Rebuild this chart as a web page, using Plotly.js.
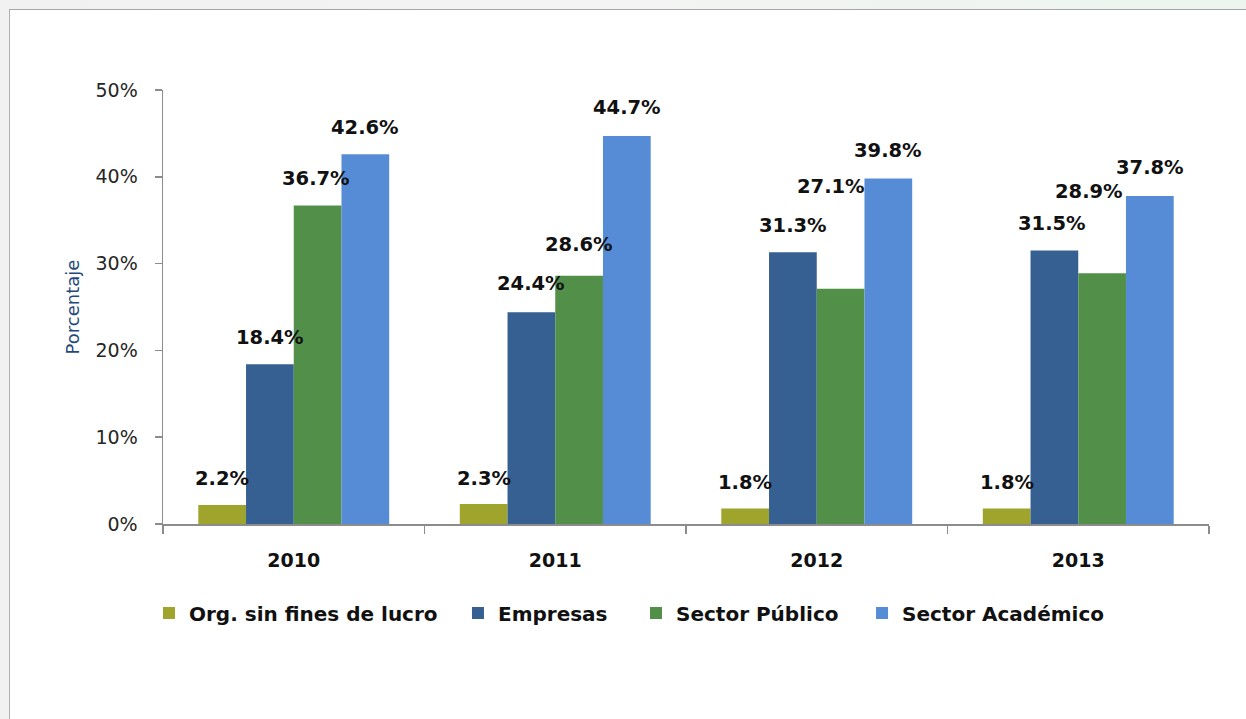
<!DOCTYPE html>
<html>
<head>
<meta charset="utf-8">
<script src="https://cdn.plot.ly/plotly-3.0.1.min.js"></script>
<style>
  html, body { margin: 0; padding: 0; background: #ffffff; }
  #wrap { position: relative; width: 1246px; height: 719px; background: linear-gradient(90deg, #f1f1f1 0%, #f3f4f3 50%, #edf5ee 100%); overflow: hidden; }
  #chart { position: absolute; left: 9px; top: 9px; width: 1237px; height: 710px; border-top: 1.5px solid #a6a6a6; border-left: 1.5px solid #b0b0b0; background: #ffffff; }
</style>
</head>
<body>
<div id="wrap"><div id="chart"></div></div>
<script>
// ---- data ----
const years = ['2010', '2011', '2012', '2013'];
const seriesNames = ['Org. sin fines de lucro', 'Empresas', 'Sector Público', 'Sector Académico'];
const orgSinFines = [2.2, 2.3, 1.8, 1.8];
const empresas = [18.4, 24.4, 31.3, 31.5];
const sectorPublico = [36.7, 28.6, 27.1, 28.9];
const sectorAcademico = [42.6, 44.7, 39.8, 37.8];
const yTickVals = [0, 10, 20, 30, 40, 50];
const yTickText = ['0%', '10%', '20%', '30%', '40%', '50%'];

// ---- label placement (pixels, layout only) ----
const labelDx = [[0, 0, 0, 0], [0, 0, 0, -2], [-2, 0, -10, -13], [0, 0, 0, 0]];
const labelDy = [[26, 26, 26, 26], [27, 29, 27, 27], [27, 31, 102, 82], [27, 29, 28, 28]];
// legend entry positions (paper x)
const legendX = [-0.0134, 0.282, 0.4522, 0.6683];
const legendIds = ['legend', 'legend2', 'legend3', 'legend4'];

const colors = ['#9ea42c', '#365f92', '#52904a', '#568cd5'];
const allSeries = [orgSinFines, empresas, sectorPublico, sectorAcademico];

const traces = allSeries.map((vals, i) => ({
  type: 'bar',
  name: seriesNames[i],
  x: years,
  y: vals,
  marker: { color: colors[i] },
  legend: legendIds[i],
  hoverinfo: 'none'
}));

const LF = 'DejaVu Sans, Verdana, sans-serif';

// Data labels as annotations above each bar
const bargap = 0.27;
const plotW = 1046;
const catW = plotW / years.length;
const barW = catW * (1 - bargap) / allSeries.length;
const annotations = [];
allSeries.forEach((vals, i) => {
  vals.forEach((v, j) => {
    annotations.push({
      x: j, y: v, xref: 'x', yref: 'y',
      text: v.toFixed(1) + '%',
      showarrow: false,
      xanchor: 'center', yanchor: 'middle',
      xshift: (i - 1.5) * barW + labelDx[i][j],
      yshift: labelDy[i][j],
      font: { family: LF, size: 19.5, color: '#111111', weight: 'bold' }
    });
  });
});

const layout = {
  width: 1236,
  height: 709,
  margin: { l: 153, r: 37, t: 80, b: 195 },
  paper_bgcolor: '#ffffff',
  plot_bgcolor: '#ffffff',
  barmode: 'group',
  bargap: bargap,
  bargroupgap: 0,
  font: { family: LF, color: '#222222' },
  xaxis: {
    type: 'category',
    range: [-0.5, years.length - 0.5],
    autorange: false,
    showline: true, linecolor: '#8c8c8c', linewidth: 1.5,
    ticks: 'outside', ticklen: 8, tickcolor: '#8c8c8c', tickwidth: 1.5,
    tickson: 'boundaries',
    ticklabelstandoff: 19,
    showgrid: false, zeroline: false,
    tickangle: 0,
    tickfont: { family: LF, size: 19, color: '#111111', weight: 'bold' }
  },
  yaxis: {
    range: [0, 50],
    autorange: false,
    tickvals: yTickVals, ticktext: yTickText,
    showline: true, linecolor: '#8c8c8c', linewidth: 1.5,
    ticks: 'outside', ticklen: 7, tickcolor: '#8c8c8c', tickwidth: 1.5,
    ticklabelstandoff: 13,
    showgrid: false, zeroline: false,
    tickfont: { family: LF, size: 19, color: '#262626' },
    title: { text: 'Porcentaje', font: { family: LF, size: 18, color: '#1f497d' }, standoff: 11 }
  },
  showlegend: true,
  annotations: annotations
};

legendIds.forEach((id, i) => {
  layout[id] = {
    orientation: 'h',
    x: legendX[i], xanchor: 'left',
    y: -0.205, yanchor: 'middle',
    font: { family: LF, size: 20, color: '#111111', weight: 'bold' },
    itemwidth: 30,
    bgcolor: 'rgba(0,0,0,0)'
  };
});

Plotly.newPlot('chart', traces, layout, { displayModeBar: false, staticPlot: true });
</script>
</body>
</html>
